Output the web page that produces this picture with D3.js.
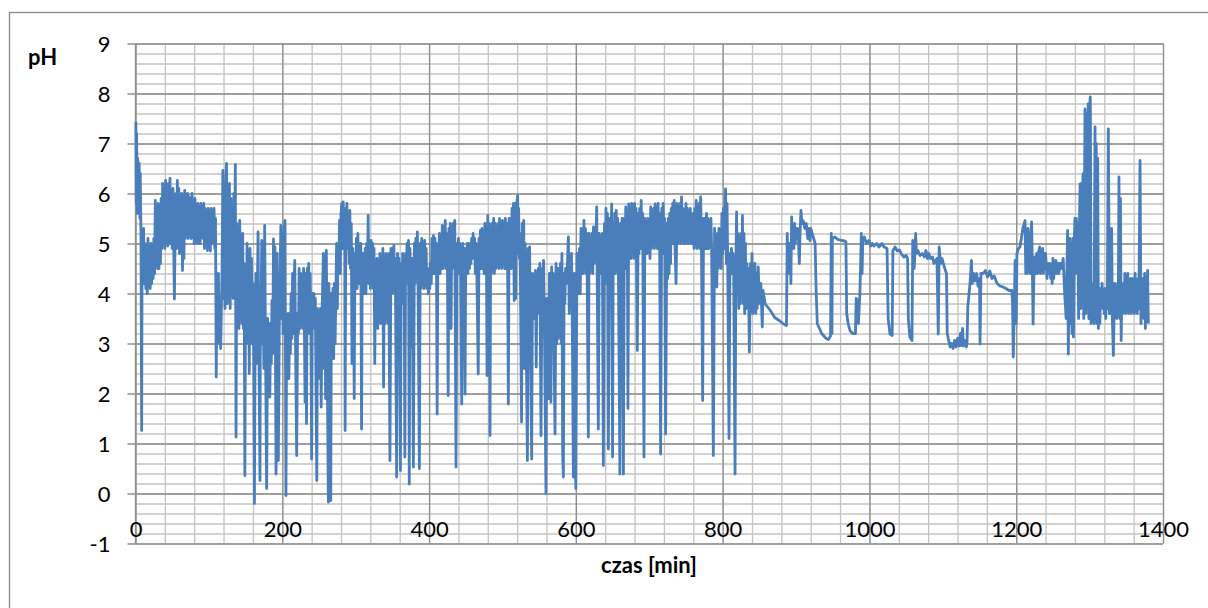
<!DOCTYPE html>
<meta charset="utf-8">
<script src="https://d3js.org/d3.v7.min.js"></script>
<style>
  body { margin: 0; background: #fff; }
  text { font-family: Lato, "Open Sans", sans-serif; fill: #000; }
</style>
<div id="chart"></div>
<script>

// pH readings, [minute, pH], one array per stretch of the record
var seg1 = [[0.5,7.43],[1,5.8],[1.5,7.2],[2.5,5.6],[3,6.7],[4,5.7],[5,6.6],[6,5.5],[6.5,6.4],[7.5,5.1],[8.4,1.26],[9,5.0],[10,4.4],[11,5.3],[12,4.2],[13,5.0],[14,4.1],[15,4.9],[16,4.0],[17,5.1],[18,4.3],[19,4.9],[20,4.1],[21,5.0],[22,4.2],[23,4.8],[24,4.3],[25,5.1],[26,4.4],[27,5.86],[28,4.6],[29,5.3],[30,4.5],[31,5.8],[32,4.5],[33,5.6],[34,4.6],[35,5.9],[36,4.9],[37,6.2],[38,5.0],[39,5.9],[40,4.9],[41,6.26],[42,5.1],[43,6.0],[44,4.95],[45,6.2],[46,5.0],[47,6.3],[48,5.1],[49,5.9],[50,4.9],[51,6.1],[52,5.0],[53,3.89],[54,5.2],[55,6.0],[56,4.9],[57,6.26],[58,5.0],[59,6.1],[60,4.8],[61,5.9],[62,4.9],[63,6.0],[64,4.46],[65,5.8],[66,4.7],[67,6.06],[68,5.1],[69,5.9],[70,5.2],[71,6.0],[72,5.1],[73,5.93],[74,5.2],[75,5.9],[76,5.1],[77,6.0],[78,5.2],[79,5.8],[80,5.0],[81,5.9],[82,5.1],[83,5.7],[84,5.0],[85,5.8],[86,5.1],[87,5.7],[88,5.0],[89,5.8],[90,5.2],[91,5.7],[92,5.1],[93,5.8],[94,4.9],[95,5.7],[96,5.0],[97,5.6],[98,4.86],[99,5.7],[100,5.0],[101,5.6],[102,4.85],[103,5.7],[104,5.0],[105,5.6],[106,5.1],[107,5.7],[108,4.9],[109,5.5],[110,2.33],[111,4.2],[112,3.2],[113,4.4],[114,3.0],[115,3.8],[116,2.9],[117,3.7],[118,4.5],[119,6.46],[120,3.9],[121,6.0],[122,3.7],[123,6.3],[124,6.6],[125,3.8],[126,5.8],[127,4.0],[128,6.2],[129,3.7],[130,5.9],[131,4.2],[132,5.6],[133,3.9],[134,6.0],[135,4.5],[136,6.58],[137,1.13],[138,5.4],[139,3.5],[140,5.3],[141,3.3],[142,5.46],[143,3.6],[144,5.0],[145,3.4],[146,5.2],[147,3.3],[148,4.6],[149,0.36],[150,4.4],[151,3.0],[152,5.0],[153,3.2],[154,4.8],[155,2.4],[156,4.9],[157,3.1],[158,4.7],[159,3.0],[160,4.2],[161,2.8],[162,-0.2],[163,3.0],[164,4.4],[165,2.6],[166,4.0],[167,5.23],[168,3.2],[169.6,0.26],[170,2.8]];

var seg2 = [[171,3.5],[172,5.06],[173,3.0],[174,3.5],[175,2.5],[176,5.36],[177,3.2],[178.7,0.1],[180,3.5],[181,2.5],[182,3.4],[183,1.93],[184,3.3],[185,2.6],[186,3.86],[187,2.8],[188,5.09],[189,3.4],[190,4.93],[191.5,0.39],[193,4.8],[194.6,0.66],[196,3.4],[198,5.36],[199,3.5],[200,4.9],[201,3.2],[202,5.2],[203.7,5.46],[205,-0.04],[206,3.5],[207,2.4],[208,3.6],[209,2.3],[210,3.5],[211,2.8],[212,4.0],[213,3.1],[214,4.4],[215,3.2],[216,4.2],[217,4.66],[218,3.1],[219.6,0.76],[221,3.6],[222,3.2],[223,4.5],[224,3.3],[225,4.4],[226,3.4],[227,4.3],[228,3.3],[229,4.5],[230,3.5],[231,1.83],[232,4.4],[233,1.4],[234,4.5],[235,3.3],[236,4.6],[237,3.2],[238,4.4],[239,3.3],[240,0.69],[241,4.0],[242,3.3],[243,4.0],[244,3.4],[245,3.9],[247,0.26],[248,3.7],[249,2.5],[250,3.6],[251,2.3],[252,3.7],[253,1.73],[254,3.5],[256,4.8],[257,2.5],[258,4.7],[259,1.9],[260,4.86],[261,3.0],[262.8,-0.17],[263.5,4.2],[264,2.7],[265,4.0],[266,-0.14],[267,4.0],[268,2.8],[269,4.1],[270,2.7],[271,4.2],[272,3.0],[273,4.0],[274,5.0],[275,3.7],[276,4.9],[277,4.4],[278,5.46],[279,4.4],[280,5.6],[281,5.8],[282,4.9],[283,5.83],[284,5.0],[285,5.7],[285.6,1.26],[286.5,5.4],[287,4.9],[288,5.8],[289,4.9],[290,5.6],[291,4.6],[292,5.66],[293,4.5],[294,5.4],[295,2.6],[296,4.9],[297,4.3],[298,1.9],[299,4.8],[300,4.2],[301,5.1],[302,4.1],[303,5.2],[304,4.2],[305,5.0],[306,4.4],[307,5.0],[308,1.29],[309,4.8],[310,4.0],[311,4.8],[312,4.0],[313,4.9],[314,4.0],[315,5.0],[316,4.3],[317,5.56],[318,4.2],[319,5.0],[320,4.1],[321,5.06],[322,4.2],[323,5.0],[324,4.1],[325,4.9],[326,2.6],[327,4.6],[328,3.4],[329,4.7],[330,3.3],[331,4.6],[332,3.6],[333,4.8],[334,3.4],[335,4.7],[336,3.6],[337,4.9],[338,2.13],[339,4.7]];

var seg3 = [[340,3.4],[341,4.8],[342,3.5],[343,4.7],[344,3.4],[345,4.8],[346.7,0.66],[348,4.9],[349,4.0],[350,4.9],[351,4.1],[352,4.96],[353,4.0],[354,4.7],[355.8,0.33],[357,4.8],[358,3.2],[359,4.7],[360,3.4],[361,0.46],[362,4.6],[363,3.9],[364,4.8],[365,3.8],[366,4.7],[367,0.73],[368,4.8],[369,4.3],[370,5.0],[371,4.2],[372,5.06],[373,0.19],[374,4.9],[375,4.3],[376,2.93],[377,4.7],[378.6,0.53],[380,5.0],[381,4.2],[382,5.1],[383,4.3],[384,5.23],[385,4.2],[386.8,0.5],[388,5.0],[389,4.1],[390,5.1],[391,4.2],[392,5.0],[393,4.1],[394,5.06],[395,4.2],[396,4.9],[397,4.1],[398,4.5],[399,4.0],[400,4.5],[401,4.1],[402,4.6],[403,4.2],[404,5.1],[405,4.4],[406,5.16],[407,4.4],[408,5.1],[409,4.5],[410,5.0],[411,1.59],[412,4.9],[413,4.4],[414,5.2],[415,4.4],[416,5.1],[417,4.5],[418,5.36],[419,4.5],[420,5.3],[421,4.6],[422,5.46],[423,4.5],[424,5.2],[425,4.6],[426,1.96],[427,5.3],[428,4.5],[429,5.4],[430,3.3],[431,5.3],[432,4.6],[433,5.4],[434,4.5],[435,5.46],[436.7,0.53],[438,5.0],[439,4.4],[440,5.1],[441,4.4],[442,5.0],[443,4.5],[444.5,1.79],[446,5.0],[447,4.3],[448,4.9],[449,1.99],[450,4.9],[451,4.4],[452,5.0],[453,4.4],[454,5.0],[455,4.5],[456,4.9],[457,4.6],[458,5.1],[459,4.7],[460,5.2],[461,4.8],[462,5.1],[463,4.4],[464,5.0],[465,4.5],[467,2.39],[468,5.1],[469,4.5],[470,5.26],[471,4.5],[472,5.3],[473,4.5],[474,5.2],[475,4.4],[476,5.4],[477,4.4],[478,5.3],[479,2.36],[480,5.56],[481,4.6],[482,5.4],[483,1.16],[484,5.3],[485,4.4],[486,5.4],[487,4.5],[488,5.5],[489,4.4],[490,5.4],[491,4.5],[492,5.3],[493,4.6],[494,5.4],[495,4.5],[496,5.5],[497,4.6],[498,5.4],[499,4.5],[500,5.46],[501,4.6],[502,5.4],[503,4.5],[504,5.5],[505,4.5],[506,5.4],[507,4.6],[508,1.79],[509,5.5],[510,4.6]];

var seg4 = [[511,5.5],[512,4.5],[513,5.7],[514,4.6],[515,5.8],[516,3.86],[517,5.8],[518,3.9],[519,5.7],[520.7,5.96],[521.5,4.8],[522,5.7],[523,4.7],[524,5.2],[526,1.43],[527,5.4],[528,3.6],[529,5.46],[530,2.5],[531,5.0],[532,3.6],[534,0.66],[535,4.9],[536,2.7],[537,4.93],[538,3.0],[539.8,0.69],[541,4.4],[542,3.6],[543,4.3],[544,3.5],[545,4.46],[546,2.53],[547,4.3],[548,3.6],[549,4.5],[550,3.8],[551,4.6],[552.5,1.16],[554,4.5],[555,3.7],[556,4.66],[557,3.6],[559.3,0.0],[560.5,3.9],[561,2.4],[562,3.9],[563,1.9],[564,4.4],[565,3.1],[566,1.83],[567,4.53],[568,3.3],[569,4.4],[570,3.2],[571.6,1.19],[573,4.6],[574,3.0],[575,4.5],[576,3.1],[577,4.5],[578,3.2],[579,4.6],[580,3.0],[581,4.8],[582,0.8],[583,0.33],[584,4.4],[585,3.8],[586,4.5],[587,4.2],[588,4.4],[589.8,5.13],[591,3.6],[592,4.7],[593,3.9],[594,4.8],[595,3.7],[596.6,0.33],[598,4.4],[599,0.7],[600,0.1],[601.5,4.8],[602,4.0],[603,4.8],[604,4.0],[605,4.9],[606,4.0],[607,5.3],[608,4.4],[609,5.2],[610,4.4],[611,5.46],[612,4.5],[613,5.3],[614,4.4],[615,5.2],[617,1.13],[618,5.2],[619,4.4],[620,5.1],[621,4.5],[622,5.2],[623,4.4],[624,5.33],[625,4.6],[626,5.2],[627,4.8],[628.4,5.73],[630.6,1.29],[632,5.2],[633,4.4],[634,5.1],[635,4.4],[636,5.2],[637.5,0.56],[639,5.4],[640,4.2],[641,5.7],[642,4.3],[643,5.6],[644.3,0.89],[646,5.5],[647,4.3],[648.8,5.79],[650,0.73],[651,5.4],[652,4.5],[653,5.6],[654,4.4],[655,5.66],[656,4.5],[657,5.5],[658,4.4],[660,0.39],[661,5.4],[662,4.6],[663,5.5],[664.8,0.39],[666,5.5],[667,4.6],[668,5.73],[669,4.5],[670,5.6],[671,1.7],[672,5.79],[673,4.7],[674,5.7],[675,4.7],[676,5.8],[677,4.8],[678,5.7],[679,4.7],[680,5.8]];

var seg5 = [[681,4.8],[682,5.7],[683.7,2.86],[685,5.6],[686,4.8],[687,5.7],[688,4.9],[689,5.86],[690,5.0],[691,5.6],[692.8,0.73],[694,5.5],[695,4.9],[696,5.4],[697,4.8],[698,5.5],[699,4.9],[700,5.3],[701,4.7],[702,5.73],[703,4.9],[704,5.6],[705,5.0],[706,5.7],[707,4.9],[708,5.79],[709,5.0],[710,5.7],[711,4.9],[712,5.8],[713,5.0],[714,5.6],[715.5,0.79],[717,5.7],[718,4.9],[719,5.8],[720,4.8],[721,5.5],[722.3,1.19],[724,5.4],[725,4.3],[726,5.5],[727,4.4],[728,5.6],[729,4.6],[730,5.7],[731,5.0],[732,5.8],[733,5.0],[734,5.86],[735,5.0],[736.5,4.2],[738,5.8],[739,5.0],[740,5.7],[741,5.1],[742,5.8],[743,5.0],[744,5.93],[745,5.1],[746,5.7],[747,5.0],[748,5.6],[749,5.0],[750,5.8],[751,5.1],[752,5.7],[753,5.0],[754,5.6],[755,5.1],[756,5.7],[757,5.0],[758,5.5],[759,5.0],[760,5.6],[761,4.9],[762,5.7],[763,5.0],[764,5.86],[765,4.9],[766,5.7],[767,5.0],[768,5.8],[769,4.9],[770,5.93],[771,5.1],[772.8,1.86],[774,5.5],[775,4.9],[776,5.5],[777,4.9],[778,5.6],[779,4.9],[780,5.5],[781,4.9],[782,5.4],[783,5.0],[784,5.5],[785,4.9],[787.3,0.76],[789,5.3],[790,4.2],[791,5.0],[792,4.13],[793,5.2],[794,4.5],[795,5.3],[796,4.6],[797,5.1],[798,4.5],[799,5.6],[800,4.8],[801,5.7],[802,4.9],[803,5.5],[804,6.09],[805,4.6],[806,5.8],[807,4.5],[808.7,1.1],[810,4.8],[811,4.4],[812,4.9],[813,4.4],[814,4.8],[815,4.5],[816.9,0.39],[818,4.6],[819,5.63],[820,4.0],[821,5.2],[822,3.7],[823,5.0],[824,3.8],[825,5.2],[826,4.0],[827,5.56],[828,3.8],[829,5.2],[830,3.6],[831,5.0],[832,3.7],[833,4.6],[834,3.8],[835,4.5],[836.4,2.83],[838,4.6],[839,3.7],[840,4.8],[841,3.6],[842,4.5],[843,3.7],[844,4.6],[845,3.6],[846,4.4],[847,3.7],[848.5,4.53],[850,3.8],[852,4.2],[854,3.33]];

var seg6 = [[855,4.06],[858,3.79],[865,3.66],[871,3.52],[878,3.45],[884,3.38],[887,3.36],[888,5.2],[889.5,4.4],[890.5,5.0],[891.5,4.6],[892.5,4.8],[893,4.2],[894,5.53],[895,4.9],[896,5.3],[897,4.9],[898,5.4],[899,5.0],[900,5.3],[901,5.1],[902,5.3],[903,5.2],[904.5,4.6],[905.5,5.2],[906.7,5.66],[908,5.4],[910,5.45],[912,5.3],[914,5.4],[916,5.1],[917,5.3],[919,5.06],[920,5.3],[922,5.2],[924,5.1],[926,5.0],[927.5,4.0],[929,3.39],[932,3.3],[935,3.2],[938,3.15],[941,3.1],[944,3.08],[947,3.15],[948,5.2],[949,3.2],[949.5,5.1],[953,5.13],[957,5.08],[962,5.06],[966,5.05],[968,5.03],[969,3.6],[971,3.4],[973.5,3.26],[977,3.2],[981,3.2],[982,3.9],[984,3.85],[985,3.4],[987,4.0],[989,5.2],[990,4.4],[991,5.1],[993,5.13],[996,5.0],[999,5.06],[1002,4.95],[1004,5.0]];

var seg7 = [[1006,4.95],[1010,5.0],[1013,4.93],[1017,5.0],[1020,4.93],[1024,4.9],[1025.5,3.5],[1028,3.19],[1031,3.16],[1032,4.86],[1035,4.93],[1038,4.85],[1041,4.87],[1044,4.78],[1047,4.73],[1050,4.76],[1052,4.7],[1053,3.5],[1055,3.13],[1058,3.06],[1059,5.06],[1061,4.5],[1063,5.2],[1064,4.8],[1066,4.86],[1069,4.76],[1072,4.8],[1075,4.73],[1077,4.86],[1079,4.7],[1081,4.8],[1083,4.7],[1086,4.73],[1088,4.6],[1090,4.66],[1092,4.7],[1093.8,3.19],[1095,4.93],[1097,4.6],[1099,4.7],[1102,4.53],[1105,4.4],[1106,3.2],[1108,3.06],[1110,2.93],[1112,3.0],[1114,2.9],[1116,3.06],[1118,2.93],[1120,3.1],[1122,2.95],[1124,3.2],[1125,2.96],[1127,3.3],[1128,2.95],[1130,3.06],[1132,2.93],[1133,3.0],[1134,3.73],[1137,4.19],[1139,4.66],[1140,4.2],[1142,4.4],[1144,4.25],[1146,4.4],[1148,4.15],[1150,4.3],[1150.7,2.99],[1152,4.4],[1155,4.4],[1158,4.46],[1161,4.33],[1164,4.45],[1167,4.3],[1170,4.35],[1174,4.2],[1178,4.15],[1182,4.13],[1186,4.1],[1190,4.06],[1194,4.06],[1195,3.8],[1196,2.73],[1197,3.4],[1198.5,4.66],[1200,3.4],[1201,4.8],[1203,4.9],[1205,4.93],[1207,5.1],[1209,5.3],[1212,5.46],[1213,4.4],[1214,5.2]];

var seg8 = [[1215,4.4],[1216,5.3],[1217,4.6],[1218,5.1],[1219,4.4],[1220,5.2],[1221,5.43],[1222,4.5],[1223,3.39],[1224,4.3],[1225.5,4.73],[1227,4.4],[1228,4.8],[1229,4.4],[1230,4.8],[1232,4.93],[1233,4.4],[1234,4.8],[1235,4.5],[1236,4.9],[1237,4.4],[1238,4.8],[1239,4.5],[1240,4.8],[1242,4.3],[1243,4.6],[1245,4.4],[1246,4.6],[1247,4.3],[1248,4.5],[1249,4.2],[1250,4.7],[1251,4.3],[1252,4.5],[1253,4.4],[1254,4.66],[1256,4.4],[1257,4.6],[1258,4.4],[1260,4.6],[1262,4.5],[1264,4.7],[1266,4.0],[1268,3.5],[1270,5.26],[1271,2.79],[1272,4.3],[1273,5.1],[1274,3.4],[1275,5.0],[1276,3.2],[1277,5.1],[1278,3.13],[1279,5.0],[1280,5.5],[1281,4.4],[1282,5.5],[1283,4.8],[1284,5.4],[1285,3.5],[1286,5.2],[1287,6.19],[1288,3.7],[1289,6.2],[1290,4.5],[1291,6.39],[1292,3.5],[1293.7,7.69],[1295,3.6],[1296,7.6],[1297,3.7],[1298,7.79],[1299,3.5],[1300.5,7.89],[1301,7.93],[1302,3.4],[1303,4.2],[1304,3.6],[1305,4.2],[1306,3.4],[1307.4,7.33],[1308,3.5],[1309,7.0],[1310,3.4],[1311,6.7],[1312,3.3],[1313,4.0],[1314,3.4],[1315,4.1],[1316,3.8],[1317,4.2],[1318,3.7],[1319,4.0],[1320,3.6],[1321,4.1],[1322,3.5],[1323,4.0],[1324,3.7],[1325.5,7.29],[1327,3.6],[1328,4.1],[1329,3.6],[1330,5.3],[1331,3.5],[1332.4,2.76],[1334,4.2],[1335,3.6],[1336,4.1],[1337,3.5],[1338,4.2],[1339,3.6],[1340,6.33],[1341,3.5],[1342,5.9],[1343,3.06],[1344,4.0],[1345,3.6],[1346,4.2],[1347,3.7],[1348,4.4],[1349,3.6],[1350,4.3],[1351,3.7],[1352,4.4],[1353,3.6],[1354,4.2],[1355,3.7],[1356,4.3],[1357,3.6],[1358,4.3],[1359,3.7],[1360,4.2],[1361,3.6],[1362,4.4],[1363,3.7],[1364,4.2],[1365,3.6],[1366,4.3],[1367,3.7],[1368.7,6.66],[1370,3.4],[1371,4.2],[1372,3.6],[1373,4.3],[1374,3.5],[1375,4.4],[1376,3.3],[1377,4.3],[1378,3.5],[1379,4.46],[1380,3.4]];

// axis ticks
var xTicks = [0, 200, 400, 600, 800, 1000, 1200, 1400];
var yTicks = [-1, 0, 1, 2, 3, 4, 5, 6, 7, 8, 9];
var xMinor = d3.range(0, 1401, 40);
var yMinor = d3.range(-1, 9.001, 0.2);

var data = seg1.concat(seg2, seg3, seg4, seg5, seg6, seg7, seg8);

var W = 1208, H = 608;
var svg = d3.select("#chart").append("svg")
    .attr("width", W)
    .attr("height", H);

// chart frame
svg.append("rect")
    .attr("x", 9.5).attr("y", 12.5)
    .attr("width", 1300).attr("height", 700)
    .attr("fill", "#fff")
    .attr("stroke", "#888").attr("stroke-width", 1.3);

var x = d3.scaleLinear().domain([0, 1400]).range([135.5, 1163]);
var y = d3.scaleLinear().domain([-1, 9]).range([543.5, 43.5]);

var plotH = y(-1) - y(9);
var plotW = x(1400) - x(0);
var plain = function(d) { return String(d); };

// minor grid
svg.append("g")
    .attr("class", "grid-minor")
    .attr("transform", "translate(0," + y(-1) + ")")
    .call(d3.axisBottom(x).tickValues(xMinor).tickSize(-plotH).tickFormat(""));
svg.append("g")
    .attr("class", "grid-minor")
    .attr("transform", "translate(" + x(0) + ",0)")
    .call(d3.axisLeft(y).tickValues(yMinor).tickSize(-plotW).tickFormat(""));

// major grid + y labels
svg.append("g")
    .attr("class", "grid-major")
    .attr("transform", "translate(0," + y(-1) + ")")
    .call(d3.axisBottom(x).tickValues(xTicks).tickSize(-plotH).tickFormat(""));
svg.append("g")
    .attr("class", "grid-major ylab")
    .attr("transform", "translate(" + (x(0) - 8) + ",0)")
    .call(d3.axisLeft(y).tickValues(yTicks).tickSize(-(plotW + 8)).tickPadding(17).tickFormat(plain));

svg.selectAll(".grid-minor line").attr("stroke", "#c3c3c3").attr("stroke-width", 1.3);
svg.selectAll(".grid-major line").attr("stroke", "#8e8e8e").attr("stroke-width", 1.3);
svg.selectAll(".grid-minor .domain, .grid-major .domain").remove();

// y axis line
svg.append("line")
    .attr("x1", x(0)).attr("x2", x(0))
    .attr("y1", y(9)).attr("y2", y(-1))
    .attr("stroke", "#8e8e8e").attr("stroke-width", 1.3);

svg.selectAll(".ylab text")
    .attr("font-family", "Lato, 'Open Sans', sans-serif")
    .attr("font-size", 22)
    .attr("fill", "#000")
    .attr("dy", "0.36em");

// x tick labels
var xl = svg.append("g")
    .attr("class", "xlab")
    .attr("transform", "translate(0,521)")
    .call(d3.axisBottom(x).tickValues(xTicks).tickSize(0).tickPadding(0).tickFormat(plain));
xl.select(".domain").remove();
xl.selectAll("text")
    .attr("font-family", "Lato, 'Open Sans', sans-serif")
    .attr("font-size", 22)
    .attr("fill", "#000");

// pH line
var line = d3.line()
    .x(function(d) { return x(d[0]); })
    .y(function(d) { return y(d[1]); });

svg.append("path")
    .datum(data)
    .attr("d", line)
    .attr("fill", "none")
    .attr("stroke", "#4a7ebb")
    .attr("stroke-width", 2.8)
    .attr("stroke-linejoin", "round");

// axis titles
svg.append("text")
    .attr("x", 28).attr("y", 65)
    .attr("font-size", 22).attr("font-weight", "bold")
    .text("pH");

svg.append("text")
    .attr("x", 649).attr("y", 573)
    .attr("text-anchor", "middle")
    .attr("font-size", 22).attr("font-weight", "bold")
    .text("czas [min]");

</script>
